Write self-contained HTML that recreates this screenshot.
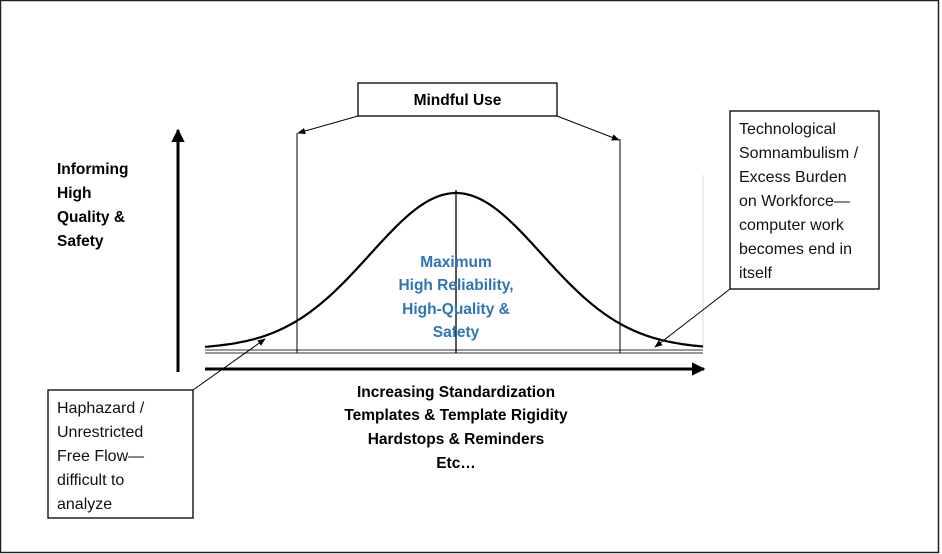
<!DOCTYPE html>
<html><head><meta charset="utf-8"><style>
html,body{margin:0;padding:0;background:#fff;}
svg{display:block;}
text{font-family:"Liberation Sans",sans-serif;}
.b{font-weight:bold;font-size:15.5px;fill:#000;}
.r{font-size:16px;fill:#111;}
.bl{font-weight:bold;font-size:15.5px;fill:#2E75B6;}
</style></head><body>
<svg width="942" height="554" viewBox="0 0 942 554" xmlns="http://www.w3.org/2000/svg">
<defs>
<marker id="ah" viewBox="0 0 10 10" refX="9" refY="5" markerWidth="8" markerHeight="8" orient="auto-start-reverse"><path d="M0,1 L10,5 L0,9 z" fill="#000"/></marker>
<marker id="big" viewBox="0 0 10 10" refX="9" refY="5" markerWidth="4.5" markerHeight="4.5" orient="auto"><path d="M0,0 L10,5 L0,10 z" fill="#000"/></marker>
</defs>
<rect x="0.5" y="0.5" width="938" height="552" fill="#fff" stroke="#222" stroke-width="1.5"/>
<line x1="178" y1="372" x2="178" y2="130" stroke="#000" stroke-width="3" marker-end="url(#big)"/>
<line x1="205" y1="369" x2="704" y2="369" stroke="#000" stroke-width="3" marker-end="url(#big)"/>
<line x1="205" y1="350" x2="703" y2="350" stroke="#333" stroke-width="1"/>
<line x1="205" y1="353" x2="703" y2="353" stroke="#333" stroke-width="1"/>
<line x1="703" y1="175" x2="703" y2="350" stroke="#ddd" stroke-width="1"/>
<line x1="297" y1="133" x2="297" y2="353" stroke="#000" stroke-width="1"/>
<line x1="620" y1="139" x2="620" y2="353" stroke="#000" stroke-width="1"/>
<line x1="456" y1="190" x2="456" y2="353" stroke="#000" stroke-width="1.3"/>
<path id="g" fill="none" stroke="#000" stroke-width="2.2" d=""/>
<script>
(function(){var d="";for(var x=205;x<=703;x+=3){var y=349-156*Math.exp(-Math.pow(x-456,2)/(2*86*86));d+=(x==205?"M":"L")+x+","+y.toFixed(1);}document.getElementById("g").setAttribute("d",d);})();
</script>
<rect x="358" y="83" width="199" height="33" fill="#fff" stroke="#000" stroke-width="1.3"/>
<text x="457.5" y="105" text-anchor="middle" class="b">Mindful Use</text>
<line x1="358" y1="116" x2="298" y2="133" stroke="#000" stroke-width="1" marker-end="url(#ah)"/>
<line x1="557" y1="116" x2="619" y2="140" stroke="#000" stroke-width="1" marker-end="url(#ah)"/>
<text class="b"><tspan x="57" y="174">Informing</tspan><tspan x="57" y="198">High</tspan><tspan x="57" y="222">Quality &amp;</tspan><tspan x="57" y="246">Safety</tspan></text>
<text class="bl" text-anchor="middle"><tspan x="456" y="267">Maximum</tspan><tspan x="456" y="290">High Reliability,</tspan><tspan x="456" y="314">High-Quality &amp;</tspan><tspan x="456" y="337">Safety</tspan></text>
<rect x="730" y="111" width="149" height="178" fill="#fff" stroke="#000" stroke-width="1.3"/>
<text class="r"><tspan x="739" y="134">Technological</tspan><tspan x="739" y="158">Somnambulism /</tspan><tspan x="739" y="182">Excess Burden</tspan><tspan x="739" y="206">on Workforce—</tspan><tspan x="739" y="230">computer work</tspan><tspan x="739" y="254">becomes end in</tspan><tspan x="739" y="278">itself</tspan></text>
<line x1="730" y1="289" x2="655" y2="347" stroke="#000" stroke-width="1" marker-end="url(#ah)"/>
<rect x="48" y="390" width="145" height="128" fill="#fff" stroke="#000" stroke-width="1.3"/>
<text class="r"><tspan x="57" y="413">Haphazard /</tspan><tspan x="57" y="437">Unrestricted</tspan><tspan x="57" y="461">Free Flow—</tspan><tspan x="57" y="485">difficult to</tspan><tspan x="57" y="509">analyze</tspan></text>
<line x1="193" y1="390" x2="265" y2="339" stroke="#000" stroke-width="1" marker-end="url(#ah)"/>
<text class="b" text-anchor="middle"><tspan x="456" y="397">Increasing Standardization</tspan><tspan x="456" y="420">Templates &amp; Template Rigidity</tspan><tspan x="456" y="444">Hardstops &amp; Reminders</tspan><tspan x="456" y="468">Etc…</tspan></text>
</svg>
</body></html>
